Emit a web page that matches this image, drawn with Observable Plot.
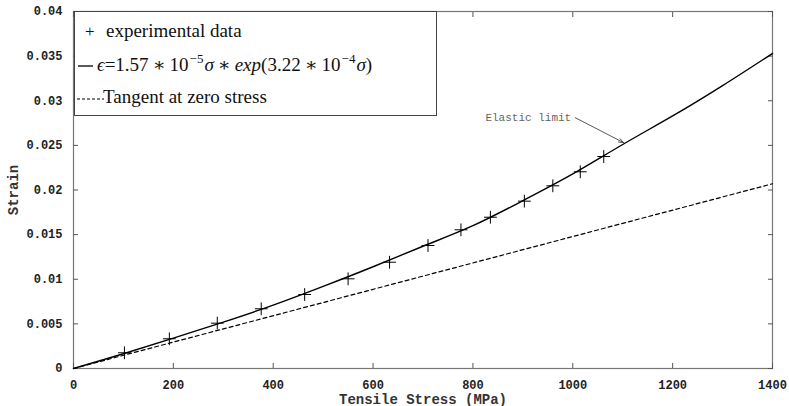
<!DOCTYPE html>
<html>
<head>
<meta charset="utf-8">
<script src="https://cdn.jsdelivr.net/npm/d3@7"></script>
<script src="https://cdn.jsdelivr.net/npm/@observablehq/plot@0.6"></script>
<style>
  html, body { margin: 0; padding: 0; background: #fff; }
  #wrap { position: relative; width: 789px; height: 406px; }
  #legend {
    position: absolute; left: 74px; top: 11px; width: 363px; height: 105px;
    box-sizing: border-box; border: 1px solid #444; background: #fff;
    font-family: "Liberation Serif", "DejaVu Serif", serif; font-size: 19px; color: #111;
  }
  .row { position: absolute; left: 0; white-space: nowrap; }
  .row svg { position: absolute; }
  .m { font-style: italic; }
  .op { margin: 0 4px; }
  sup { font-size: 13px; vertical-align: 0; position: relative; top: -8px; margin: 0 1px; }
</style>
</head>
<body>
<div id="wrap">
  <div id="chart"></div>
  <div id="legend">
    <div class="row" style="top:8px;left:10px;"><span style="font-size:17px">+</span></div>
    <div class="row" style="top:8px;left:31px;">experimental data</div>
    <div class="row" style="top:41px;left:0px;">
      <svg width="20" height="24" style="left:2px;top:0"><line x1="1" y1="13" x2="16" y2="13" stroke="#000" stroke-width="1.3"/></svg>
    </div>
    <div class="row" style="top:41px;left:22px;"><span class="m">ϵ</span>=1.57<span class="op">∗</span>10<sup>−5</sup><span class="m">σ</span><span class="op">∗</span><span class="m">exp</span>(3.22<span class="op">∗</span>10<sup>−4</sup><span class="m">σ</span>)</div>
    <div class="row" style="top:74px;left:0px;">
      <svg width="30" height="24" style="left:2px;top:0"><line x1="0" y1="13" x2="27" y2="13" stroke="#000" stroke-width="1.1" stroke-dasharray="3,2"/></svg>
    </div>
    <div class="row" style="top:74px;left:28px;">Tangent at zero stress</div>
  </div>
</div>
<script>
// experimental data
const stress = [102, 192, 288, 376, 463, 550, 633, 710, 776, 835, 903, 960, 1015, 1062];
const strain = [0.00176, 0.00333, 0.00508, 0.00669, 0.00829, 0.01005, 0.01191, 0.01378, 0.01554, 0.01695, 0.01875, 0.02047, 0.02204, 0.02375];
// fitted curve
const fitStress = [0, 100, 200, 300, 400, 500, 600, 700, 800, 900, 1000, 1100, 1200, 1300, 1400];
const fitStrain = [0, 0.00165, 0.0034, 0.0052, 0.0071, 0.0092, 0.0114, 0.0137, 0.0160, 0.0188, 0.0218, 0.0251, 0.0283, 0.0317, 0.0353];
// tangent at zero stress
const tanStress = [0, 1400];
const tanStrain = [0, 0.0207];
// ticks
const xTicks = [0, 200, 400, 600, 800, 1000, 1200, 1400];
const xTickLabels = ["0", "200", "400", "600", "800", "1000", "1200", "1400"];
const yTicks = [0, 0.005, 0.01, 0.015, 0.02, 0.025, 0.03, 0.035, 0.04];
const yTickLabels = ["0", "0.005", "0.01", "0.015", "0.02", "0.025", "0.03", "0.035", "0.04"];
// annotation
const annText = ["Elastic limit"];
const annTextStress = [825];
const annTextStrain = [0.0281];
const annFrom = [1005, 0.0281];
const annTo = [1102, 0.0253];

const pts = stress.map((s, i) => ({s, e: strain[i]}));
const fit = fitStress.map((s, i) => ({s, e: fitStrain[i]}));
const tan = tanStress.map((s, i) => ({s, e: tanStrain[i]}));

const tickFont = {fontFamily: "'Liberation Mono', 'DejaVu Sans Mono', monospace", fontWeight: "bold", fontSize: 12, fill: "#222"};

const chart = Plot.plot({
  width: 789,
  height: 406,
  marginLeft: 73,
  marginRight: 17,
  marginTop: 11,
  marginBottom: 38,
  style: {background: "#fff", overflow: "visible"},
  x: {domain: [0, 1400]},
  y: {domain: [0, 0.04]},
  marks: [
    Plot.frame({stroke: "#777", strokeWidth: 1.2}),
    Plot.axisX({anchor: "bottom", ticks: xTicks, tickSize: -5, tickPadding: 17, stroke: "#555",
      tickFormat: (d) => xTickLabels[xTicks.indexOf(d)],
      label: "Tensile Stress (MPa)", labelAnchor: "center", labelArrow: "none", labelOffset: 35,
      ...tickFont}),
    Plot.axisX({anchor: "top", ticks: xTicks, tickSize: -5, tickFormat: () => "", label: null, stroke: "#555"}),
    Plot.axisY({anchor: "left", ticks: yTicks, tickSize: -5, tickPadding: 16, stroke: "#555",
      tickFormat: (d) => yTickLabels[yTicks.findIndex(t => Math.abs(t - d) < 1e-9)],
      label: "Strain", labelAnchor: "center", labelArrow: "none", labelOffset: 65,
      ...tickFont}),
    Plot.axisY({anchor: "right", ticks: yTicks, tickSize: -5, tickFormat: () => "", label: null, stroke: "#555"}),
    Plot.line(tan, {x: "s", y: "e", stroke: "#000", strokeWidth: 1.2, strokeDasharray: "4,3"}),
    Plot.line(fit, {x: "s", y: "e", stroke: "#000", strokeWidth: 1.4, curve: "natural"}),
    Plot.dot(pts, {x: "s", y: "e", symbol: "plus", r: 4.2, stroke: "#000", strokeWidth: 1}),
    Plot.arrow([{x1: annFrom[0], y1: annFrom[1], x2: annTo[0], y2: annTo[1]}],
      {x1: "x1", y1: "y1", x2: "x2", y2: "y2", stroke: "#444", strokeWidth: 0.9, headLength: 9, headAngle: 40}),
    Plot.text(annText, {x: annTextStress, y: annTextStrain, text: d => d, textAnchor: "start",
      fontFamily: "'Liberation Mono', 'DejaVu Sans Mono', monospace", fontSize: 11, fill: "#666"})
  ]
});
document.getElementById("chart").appendChild(chart);
chart.querySelectorAll("g[aria-label='x-axis label'] text, g[aria-label='y-axis label'] text").forEach(t => {
  t.setAttribute("font-size", "14");
  t.setAttribute("font-weight", "bold");
  t.setAttribute("font-family", "'Liberation Mono', 'DejaVu Sans Mono', monospace");
  t.setAttribute("fill", "#333");
});
</script>
</body>
</html>
